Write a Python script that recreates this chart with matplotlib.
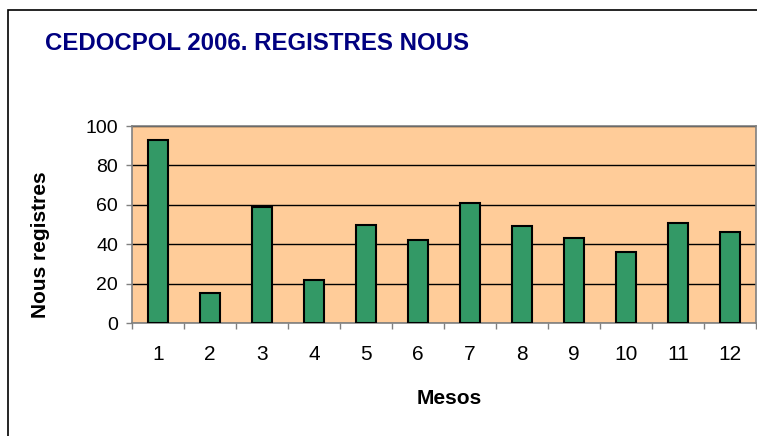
import matplotlib
matplotlib.use("Agg")
import matplotlib.pyplot as plt
import numpy as np
from matplotlib.patches import Rectangle

plt.rcParams['font.family'] = ['Liberation Sans', 'DejaVu Sans']

# data
mesos = [1, 2, 3, 4, 5, 6, 7, 8, 9, 10, 11, 12]
registres = [93, 15, 59, 22, 50, 42, 61, 49, 43, 36, 51, 46]

W, H = 757, 436
fig = plt.figure(figsize=(W / 100, H / 100), dpi=100)
ax = fig.add_axes([132/W, 1 - 323/H, 624/W, 197/H])

ax.set_facecolor('#FFCC99')
ax.bar(mesos, registres, width=0.39, color='#339966', edgecolor='black', linewidth=1.5, zorder=3)

ax.set_xlim(0.5, 12.5)
ax.set_ylim(0, 100)
ax.set_yticks(np.arange(0, 101, 20))
ax.set_xticks(mesos)
ax.set_xticks(np.arange(0.5, 12.6, 1), minor=True)
ax.tick_params(axis='x', which='major', length=0, pad=16, labelsize=15)
ax.tick_params(axis='x', which='minor', length=4.5, width=1, color='#808080', direction='out')
ax.tick_params(axis='y', length=4.5, width=1, color='#808080', labelsize=14, pad=5.5)
ax.yaxis.grid(True, color='black', linewidth=1, zorder=1)
ax.set_axisbelow(True)

for side in ['left', 'bottom', 'top', 'right']:
    ax.spines[side].set_color('#808080')
    ax.spines[side].set_linewidth(1.2)

# axis titles
fig.text(449/W, 1 - 404/H, 'Mesos', fontsize=15, fontweight='bold', ha='center', va='baseline')
fig.text(41/W, 1 - 245/H, 'Nous registres', fontsize=15, fontweight='bold', rotation=90,
         ha='center', va='center')

fig.text(45/W, 1 - 50/H, 'CEDOCPOL 2006. REGISTRES NOUS', fontsize=17.3, fontweight='bold',
         color='#000080', va='baseline', ha='left')

# chart border
fig.patches.append(Rectangle((8/W, -0.05), 1.0, 1 - 10/H + 0.05, transform=fig.transFigure,
                             fill=False, edgecolor='black', linewidth=1.2, clip_on=False))

fig.savefig('out.png', dpi=100)
